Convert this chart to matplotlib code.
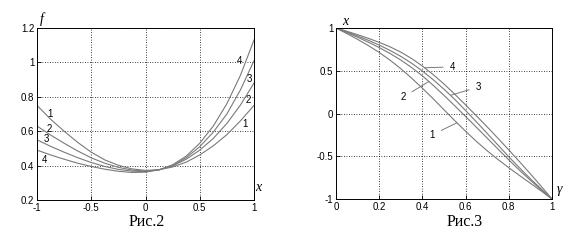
import matplotlib
matplotlib.use("Agg")
import matplotlib.pyplot as plt
import numpy as np

# Fig.2 : f(x), four curves (every 0.125)
x_left = [-1, -0.875, -0.75, -0.625, -0.5, -0.375, -0.25, -0.125, 0,
          0.125, 0.25, 0.375, 0.5, 0.625, 0.75, 0.875, 1]
f1 = [0.75, 0.67, 0.60, 0.535, 0.478, 0.433, 0.402, 0.381, 0.372,
      0.376, 0.392, 0.42, 0.462, 0.515, 0.580, 0.66, 0.75]
f2 = [0.63, 0.578, 0.53, 0.485, 0.445, 0.414, 0.390, 0.374, 0.368,
      0.376, 0.398, 0.437, 0.490, 0.558, 0.645, 0.752, 0.88]
f3 = [0.55, 0.512, 0.478, 0.446, 0.418, 0.395, 0.378, 0.368, 0.365,
      0.375, 0.400, 0.446, 0.510, 0.595, 0.700, 0.84, 1.01]
f4 = [0.49, 0.462, 0.437, 0.414, 0.395, 0.379, 0.367, 0.360, 0.362,
      0.376, 0.405, 0.455, 0.530, 0.630, 0.760, 0.925, 1.13]

# Fig.3 : x(gamma), four curves (every 0.05)
x_right = [0, 0.05, 0.1, 0.15, 0.2, 0.25, 0.3, 0.35, 0.4, 0.45, 0.5,
           0.55, 0.6, 0.65, 0.7, 0.75, 0.8, 0.85, 0.9, 0.95, 1]
g1 = [1, 0.935, 0.867, 0.794, 0.714, 0.624, 0.524, 0.414, 0.296, 0.172, 0.044,
      -0.084, -0.208, -0.326, -0.436, -0.538, -0.634, -0.726, -0.816, -0.906, -1.0]
g2 = [1, 0.947, 0.892, 0.834, 0.771, 0.702, 0.625, 0.538, 0.440, 0.330, 0.212,
      0.090, -0.035, -0.161, -0.288, -0.416, -0.543, -0.665, -0.781, -0.893, -1.0]
g3 = [1, 0.955, 0.907, 0.856, 0.800, 0.738, 0.668, 0.588, 0.497, 0.395, 0.284,
      0.165, 0.035, -0.098, -0.233, -0.370, -0.506, -0.637, -0.763, -0.883, -1.0]
g4 = [1, 0.962, 0.922, 0.879, 0.832, 0.780, 0.718, 0.643, 0.555, 0.455, 0.345,
      0.225, 0.100, -0.027, -0.157, -0.290, -0.426, -0.565, -0.706, -0.852, -1.0]

curve_names = ["1", "2", "3", "4"]

GRAY = "#7a7a7a"
TICK_FONT = "Liberation Sans"
SERIF = "Liberation Serif"

fig = plt.figure(figsize=(5.86, 2.44), dpi=100)
fig.patch.set_facecolor("white")

W, H = 586.0, 244.0
ax1 = fig.add_axes([37 / W, (H - 200) / H, 217 / W, 172 / H])
ax2 = fig.add_axes([336 / W, (H - 199) / H, 216 / W, 171 / H])


def style_axes(ax):
    ax.grid(True, color="black", linestyle=(0, (1, 2)), linewidth=0.6)
    ax.tick_params(direction="in", length=3, width=0.6, labelsize=7, pad=2)
    for lab in ax.get_xticklabels() + ax.get_yticklabels():
        lab.set_fontfamily(TICK_FONT)
    for sp in ax.spines.values():
        sp.set_linewidth(0.7)


# left chart
for ys in (f1, f2, f3, f4):
    ax1.plot(x_left, ys, color=GRAY, linewidth=0.8)
ax1.set_xlim(-1, 1)
ax1.set_ylim(0.2, 1.2)
ax1.set_xticks([-1, -0.5, 0, 0.5, 1])
ax1.set_xticklabels(["-1", "-0.5", "0", "0.5", "1"])
ax1.set_yticks([0.2, 0.4, 0.6, 0.8, 1.0, 1.2])
ax1.set_yticklabels(["0.2", "0.4", "0.6", "0.8", "1", "1.2"])
style_axes(ax1)

left_lab_pos = [(-0.88, 0.70), (-0.89, 0.615), (-0.915, 0.555), (-0.93, 0.435)]
right_lab_pos = [(0.915, 0.64), (0.945, 0.78), (0.955, 0.905), (0.87, 1.01)]
for name, p in zip(curve_names, left_lab_pos):
    ax1.text(p[0], p[1], name, fontsize=7, family=TICK_FONT, ha="center", va="center")
for name, p in zip(curve_names, right_lab_pos):
    ax1.text(p[0], p[1], name, fontsize=7, family=TICK_FONT, ha="center", va="center")

ax1.text(-0.97, 1.21, "f", fontsize=10, family=SERIF, style="italic", ha="left", va="bottom")
ax1.text(1.01, 0.235, "x", fontsize=10, family=SERIF, style="italic", ha="left", va="bottom")
fig.text(147 / W, 1 - 222 / H, "Рис.2", fontsize=11.5, family=SERIF, ha="center", va="center")

# right chart
for ys in (g1, g2, g3, g4):
    ax2.plot(x_right, ys, color=GRAY, linewidth=0.8)
ax2.set_xlim(0, 1)
ax2.set_ylim(-1, 1)
ax2.set_xticks([0, 0.2, 0.4, 0.6, 0.8, 1])
ax2.set_xticklabels(["0", "0.2", "0.4", "0.6", "0.8", "1"])
ax2.set_yticks([-1, -0.5, 0, 0.5, 1])
ax2.set_yticklabels(["-1", "-0.5", "0", "0.5", "1"])
style_axes(ax2)

# leader labels: (text pos, x where the leader meets the curve)
leaders = [("1", (0.445, -0.25), 0.56, g1),
           ("2", (0.31, 0.19), 0.43, g2),
           ("3", (0.66, 0.31), 0.53, g3),
           ("4", (0.54, 0.545), 0.41, g4)]
for name, tpos, xc, ys in leaders:
    yc = np.interp(xc, x_right, ys)
    ax2.annotate(name, xy=(xc, yc), xytext=tpos, fontsize=7, family=TICK_FONT,
                 ha="center", va="center",
                 arrowprops=dict(arrowstyle="-", color=GRAY, linewidth=0.7,
                                 shrinkA=3, shrinkB=0))

ax2.text(0.03, 1.0, "x", fontsize=10, family=SERIF, style="italic", ha="left", va="bottom")
ax2.text(1.02, -0.96, "γ", fontsize=10, family=SERIF, style="italic", ha="left", va="bottom")
fig.text(465 / W, 1 - 222 / H, "Рис.3", fontsize=11.5, family=SERIF, ha="center", va="center")

fig.savefig("out.png", dpi=100, facecolor="white")
